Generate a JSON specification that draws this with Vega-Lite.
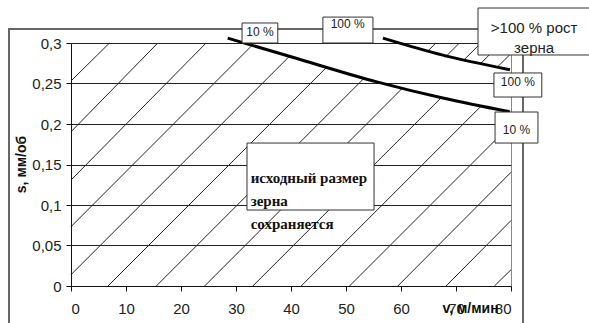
{
  "$schema": "https://vega.github.io/schema/vega-lite/v6.json",
  "width": 440,
  "height": 243,
  "autosize": {"type": "none"},
  "padding": {"left": 71, "top": 43, "right": 78, "bottom": 37},
  "background": "white",
  "config": {"view": {"stroke": "#888", "strokeWidth": 1}, "font": "Liberation Sans"},
  "datasets": {
    "frame": [{"x": -11.27, "x2": 82.18, "y": 0.3173, "y2": -0.06}],
    "hatch": [
      {"x": 0, "y": 0.2531, "x2": 7.0, "y2": 0.3},
      {"x": 0, "y": 0.1904, "x2": 15.78, "y2": 0.3},
      {"x": 0, "y": 0.1308, "x2": 24.56, "y2": 0.3},
      {"x": 0, "y": 0.0733, "x2": 32.91, "y2": 0.297},
      {"x": 0, "y": 0.014, "x2": 39.64, "y2": 0.2831},
      {"x": 6.73, "y": 0, "x2": 46.45, "y2": 0.2698},
      {"x": 15.51, "y": 0, "x2": 53.27, "y2": 0.2564},
      {"x": 24.29, "y": 0, "x2": 60.25, "y2": 0.2442},
      {"x": 33.07, "y": 0, "x2": 67.33, "y2": 0.2326},
      {"x": 41.85, "y": 0, "x2": 74.58, "y2": 0.2222},
      {"x": 50.64, "y": 0, "x2": 80, "y2": 0.1994},
      {"x": 59.42, "y": 0, "x2": 80, "y2": 0.1404},
      {"x": 68.2, "y": 0, "x2": 80, "y2": 0.0808},
      {"x": 76.98, "y": 0, "x2": 80, "y2": 0.0201},
      {"x": 64.73, "y": 0.289, "x2": 66.35, "y2": 0.3},
      {"x": 68.0, "y": 0.2822, "x2": 70.62, "y2": 0.3},
      {"x": 71.27, "y": 0.2779, "x2": 74.53, "y2": 0.3},
      {"x": 74.36, "y": 0.2738, "x2": 78.22, "y2": 0.3},
      {"x": 77.45, "y": 0.2698, "x2": 80, "y2": 0.287}
    ],
    "curves": [
      {"curve": "10 %", "x": 28.5, "y": 0.306},
      {"curve": "10 %", "x": 40, "y": 0.283},
      {"curve": "10 %", "x": 55.6, "y": 0.252},
      {"curve": "10 %", "x": 67.6, "y": 0.232},
      {"curve": "10 %", "x": 79.8, "y": 0.215},
      {"curve": "100 %", "x": 56.7, "y": 0.306},
      {"curve": "100 %", "x": 67.6, "y": 0.285},
      {"curve": "100 %", "x": 79.8, "y": 0.267}
    ],
    "boxes": [
      {"x": 31.1, "x2": 37.6, "y": 0.3, "y2": 0.3247},
      {"x": 45.8, "x2": 54.9, "y": 0.3, "y2": 0.332},
      {"x": 74.0, "x2": 94.4, "y": 0.2852, "y2": 0.3432},
      {"x": 76.9, "x2": 85.6, "y": 0.2333, "y2": 0.263},
      {"x": 77.1, "x2": 84.9, "y": 0.1765, "y2": 0.2148},
      {"x": 32.0, "x2": 55.1, "y": 0.0938, "y2": 0.1765}
    ],
    "small": [
      {"x": 34.35, "y": 0.314, "text": "10 %"},
      {"x": 50.3, "y": 0.3235, "text": "100 %"},
      {"x": 81.25, "y": 0.252, "text": "100 %"},
      {"x": 81.0, "y": 0.193, "text": "10 %"}
    ],
    "big": [
      {"x": 84.2, "y": 0.3185, "text": ">100 % рост\nзерна"}
    ],
    "serif": [
      {"x": 32.67, "y": 0.1333, "text": "исходный размер\nзерна\nсохраняется"}
    ]
  },
  "layer": [
    {
      "data": {"name": "frame"},
      "mark": {"type": "rect", "filled": false, "stroke": "#666", "strokeWidth": 2, "clip": false},
      "encoding": {
        "x": {"field": "x", "type": "quantitative",
          "scale": {"domain": [0, 80], "nice": false, "zero": false},
          "axis": {"title": "v, м/мин", "values": [0, 10, 20, 30, 40, 50, 60, 70, 80], "grid": false,
            "domainColor": "#111", "tickColor": "#111", "tickSize": 5, "labelPadding": 10,
            "labelFont": "Liberation Sans", "labelFontSize": 15, "labelColor": "#222",
            "titleFont": "Liberation Sans", "titleFontSize": 14, "titleFontWeight": "bold", "titleColor": "#111",
            "titleX": 399, "titleY": 22, "titleAlign": "center", "titleBaseline": "middle", "titleAnchor": null}},
        "x2": {"field": "x2"},
        "y": {"field": "y", "type": "quantitative",
          "scale": {"domain": [0, 0.3], "nice": false, "zero": false},
          "axis": {"title": "s, мм/об", "values": [0, 0.05, 0.1, 0.15, 0.2, 0.25, 0.3], "grid": true,
            "gridColor": "#222", "gridWidth": 1, "gridOpacity": 1,
            "labelExpr": "replace(format(datum.value, '.2~f'), '.', ',')",
            "domainColor": "#111", "tickColor": "#111", "tickSize": 5, "labelPadding": 5,
            "labelFont": "Liberation Sans", "labelFontSize": 15, "labelColor": "#222",
            "titleFont": "Liberation Sans", "titleFontSize": 14, "titleFontWeight": "bold", "titleColor": "#111",
            "titleX": -50, "titleY": 121, "titleAlign": "center", "titleBaseline": "middle", "titleAngle": -90}},
        "y2": {"field": "y2"}
      }
    },
    {
      "data": {"name": "hatch"},
      "mark": {"type": "rule", "stroke": "#222", "strokeWidth": 1, "clip": false},
      "encoding": {
        "x": {"field": "x", "type": "quantitative"},
        "x2": {"field": "x2"},
        "y": {"field": "y", "type": "quantitative"},
        "y2": {"field": "y2"}
      }
    },
    {
      "data": {"name": "curves"},
      "mark": {"type": "line", "stroke": "#000", "strokeWidth": 3, "interpolate": "monotone", "clip": false},
      "encoding": {
        "x": {"field": "x", "type": "quantitative"},
        "y": {"field": "y", "type": "quantitative"},
        "detail": {"field": "curve"}
      }
    },
    {
      "data": {"name": "boxes"},
      "mark": {"type": "rect", "fill": "white", "stroke": "#333", "strokeWidth": 1, "clip": false},
      "encoding": {
        "x": {"field": "x", "type": "quantitative"},
        "x2": {"field": "x2"},
        "y": {"field": "y", "type": "quantitative"},
        "y2": {"field": "y2"}
      }
    },
    {
      "data": {"name": "small"},
      "mark": {"type": "text", "font": "Liberation Sans", "fontSize": 12, "color": "#222", "align": "center", "baseline": "middle", "clip": false},
      "encoding": {
        "x": {"field": "x", "type": "quantitative"},
        "y": {"field": "y", "type": "quantitative"},
        "text": {"field": "text"}
      }
    },
    {
      "data": {"name": "big"},
      "mark": {"type": "text", "font": "Liberation Sans", "fontSize": 15, "color": "#222", "align": "center", "baseline": "middle", "lineBreak": "\n", "lineHeight": 20, "clip": false},
      "encoding": {
        "x": {"field": "x", "type": "quantitative"},
        "y": {"field": "y", "type": "quantitative"},
        "text": {"field": "text"}
      }
    },
    {
      "data": {"name": "serif"},
      "mark": {"type": "text", "font": "Liberation Serif", "fontSize": 15, "fontWeight": "bold", "color": "#111", "align": "left", "baseline": "middle", "lineBreak": "\n", "lineHeight": 23, "clip": false},
      "encoding": {
        "x": {"field": "x", "type": "quantitative"},
        "y": {"field": "y", "type": "quantitative"},
        "text": {"field": "text"}
      }
    }
  ]
}
